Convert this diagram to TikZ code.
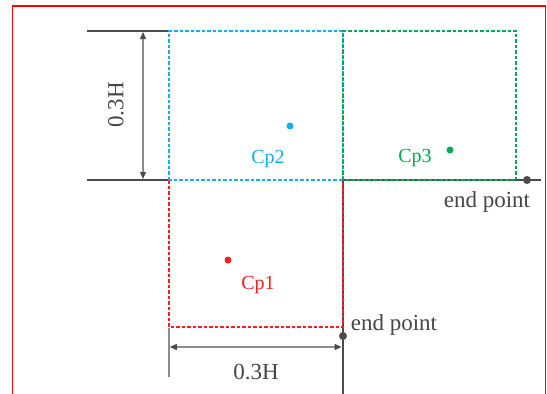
\documentclass[tikz,border=0pt]{standalone}
\usepackage{fontspec}
\setmainfont{Liberation Serif}
\usetikzlibrary{arrows.meta}
\definecolor{cpred}{RGB}{255,30,30}
\definecolor{cpblue}{RGB}{20,175,240}
\definecolor{cpgreen}{RGB}{0,170,80}
\definecolor{axgray}{RGB}{75,75,75}
\definecolor{dimgray}{RGB}{140,140,140}
\definecolor{txtgray}{RGB}{70,70,70}
\tikzset{
  frame/.style={draw=red, line width=1.8pt},
  boxline/.style={dash pattern=on 3.5pt off 2pt, line width=1.4pt},
  axis/.style={draw=axgray, line width=1.9pt},
  thickaxis/.style={draw=axgray, line width=2.8pt},
  dimline/.style={draw=dimgray, line width=1.2pt},
  dimarrow/.style={draw=dimgray, line width=1.2pt, {Triangle[length=7pt,width=6pt,fill=axgray,color=axgray]}-{Triangle[length=7pt,width=6pt,fill=axgray,color=axgray]}},
  dot/.style={circle, inner sep=0pt, minimum size=7pt},
  enddot/.style={circle, fill=axgray, inner sep=0pt, minimum size=8pt},
  lbl/.style={font=\fontsize{20}{22}\selectfont, inner sep=0pt},
  dimlbl/.style={font=\fontsize{23}{25}\selectfont, text=txtgray, inner sep=0pt},
}
\begin{document}
\begin{tikzpicture}[x=1pt,y=-1pt]
\useasboundingbox (0,0) rectangle (547,394);
% outer red frame
\draw[frame] (12.5,400) -- (12.5,5.8) -- (545.5,5.8) -- (545.5,400);
% coordinates
\coordinate (TL) at (87,31);
\coordinate (A) at (169,31);
\coordinate (B) at (343,31);
\coordinate (C) at (516,31);
\coordinate (BL) at (87,180);
\coordinate (D) at (169,180);
\coordinate (E) at (343,180);
\coordinate (F) at (516,180);
\coordinate (Fend) at (541,180);
\coordinate (G) at (169,327);
\coordinate (H) at (343,327);
\coordinate (Hbot) at (343,394);
% gray axis lines
\draw[axis] (TL) -- (A);
\draw[axis] (BL) -- (D);
\draw[axgray, line width=1.4pt] (E) -- (H);
\draw[thickaxis] (E) -- (Fend);
\draw[thickaxis] (H) -- (Hbot);
% dashed boxes
\draw[boxline, cpred] (D) -- (G) -- (H) -- (E);
\draw[boxline, cpblue] (D) -- (A) -- (B) -- (E) -- cycle;
\draw[boxline, cpgreen] (E) -- (B) -- (C) -- (F) -- (E);
% end points
\node[enddot] (ep1) at (527,180) {};
\node[enddot] (ep2) at (343,336) {};
\node[dimlbl, anchor=base] (ep1t) at (487,207) {end point};
\node[dimlbl, anchor=base] (ep2t) at (394,330) {end point};
% centre points
\node[dot, fill=cpblue] (cp2) at (290,126) {};
\node[lbl, text=cpblue, anchor=base] (cp2t) at (268,163) {Cp2};
\node[dot, fill=cpgreen] (cp3) at (450,150) {};
\node[lbl, text=cpgreen, anchor=base] (cp3t) at (415,162) {Cp3};
\node[dot, fill=cpred] (cp1) at (228,260) {};
\node[lbl, text=cpred, anchor=base] (cp1t) at (258,289) {Cp1};
% vertical dimension
\coordinate (v1) at (143,32);
\coordinate (v2) at (143,179);
\draw[dimarrow] (v1) -- (v2);
\node[dimlbl, rotate=90] (vlab) at (116,105) {0.3H};
% horizontal dimension
\coordinate (t1) at (169,328);
\coordinate (t2) at (169,377);
\draw[dimline, line width=1.5pt] (t1) -- (t2);
\coordinate (h1) at (169.8,347);
\coordinate (h2) at (341.6,347);
\draw[dimarrow] (h1) -- (h2);
\node[dimlbl] (hlab) at (256,372) {0.3H};
\end{tikzpicture}
\end{document}
